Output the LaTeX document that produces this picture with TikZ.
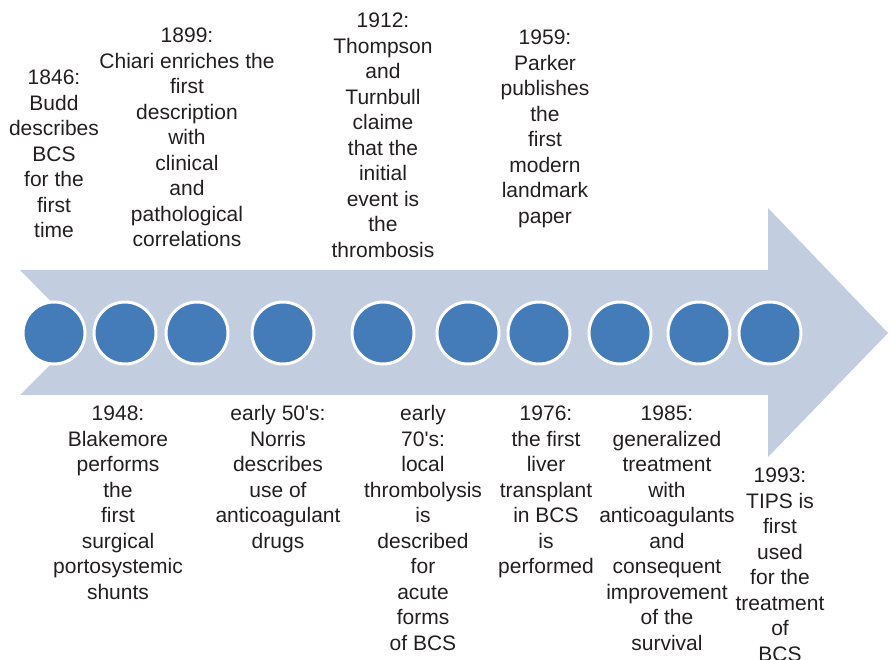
\documentclass[tikz,border=0pt]{standalone}
\usepackage{fontspec}
\setmainfont{Liberation Sans}
\definecolor{arrowfill}{HTML}{C2CDDF}
\definecolor{dotfill}{HTML}{447CB9}
\definecolor{txt}{HTML}{231F20}
\newcommand{\fstrut}{\rule{0pt}{20pt}}
\begin{document}
\begin{tikzpicture}[x=1pt,y=-1pt,
  dot/.style={circle,fill=dotfill,draw=white,line width=3pt,minimum size=62pt,inner sep=0pt},
  lbl/.style={anchor=north,inner sep=0pt,align=center,text=txt,font=\fontsize{21}{25.5}\selectfont}]
\useasboundingbox (0,0) rectangle (889,660);
% arrow
\fill[arrowfill] (20,270) -- (768,270) -- (768,208) -- (888,333) -- (768,457) -- (768,395)
  -- (20,395) -- (82,333) -- cycle;
% circles
\foreach \n/\x in {c1/54,c2/125,c3/197,c4/283,c5/383,c6/468,c7/539,c8/620,c9/699,c10/770}
  \node[dot] (\n) at (\x,333) {};
% top labels
\node[lbl] (t1846) at (54,64.5) {\fstrut 1846:\\Budd\\describes\\BCS\\for the\\first\\time};
\node[lbl] (t1899) at (187,22.5) {\fstrut 1899:\\Chiari enriches the\\first\\description\\with\\clinical\\and\\pathological\\correlations};
\node[lbl] (t1912) at (383,7.5) {\fstrut 1912:\\Thompson\\and\\Turnbull\\claime\\that the\\initial\\event is\\the\\thrombosis};
\node[lbl] (t1959) at (545,24.5) {\fstrut 1959:\\Parker\\publishes\\the\\first\\modern\\landmark\\paper};
% bottom labels
\node[lbl] (b1948) at (118,400.5) {\fstrut 1948:\\Blakemore\\performs\\the\\first\\surgical\\portosystemic\\shunts};
\node[lbl] (b50) at (278,400.5) {\fstrut early 50\textquotesingle s:\\Norris\\describes\\use of\\anticoagulant\\drugs};
\node[lbl] (b70) at (423,400.5) {\fstrut early\\70\textquotesingle s:\\local\\thrombolysis\\is\\described\\for\\acute\\forms\\of BCS};
\node[lbl] (b1976) at (546,400.5) {\fstrut 1976:\\the first\\liver\\transplant\\in BCS\\is\\performed};
\node[lbl] (b1985) at (667,400.5) {\fstrut 1985:\\generalized\\treatment\\with\\anticoagulants\\and\\consequent\\improvement\\of the\\survival};
\node[lbl] (b1993) at (780,462.5) {\fstrut 1993:\\TIPS is\\first\\used\\for the\\treatment\\of\\BCS};
\end{tikzpicture}
\end{document}
